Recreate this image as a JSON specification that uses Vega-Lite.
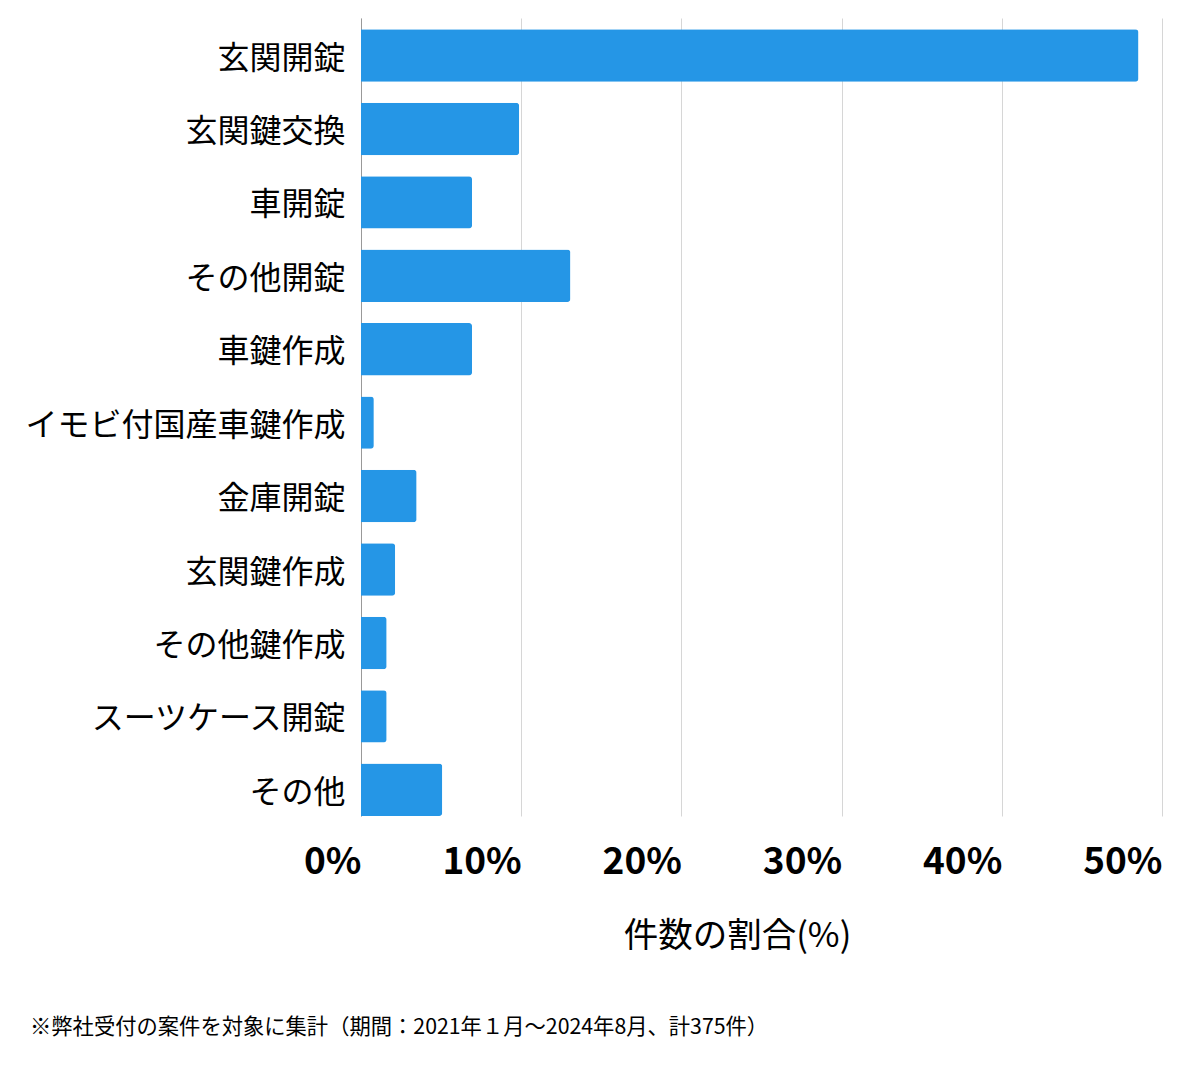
{
  "$schema": "https://vega.github.io/schema/vega-lite/v6.json",
  "width": 801,
  "height": 798,
  "autosize": {"type": "none"},
  "padding": {"left": 361, "top": 18, "right": 38, "bottom": 253},
  "background": "#ffffff",
  "config": {
    "font": "Noto Sans CJK JP",
    "view": {"stroke": null}
  },
  "title": {
    "text": "※弊社受付の案件を対象に集計（期間：2021年１月〜2024年8月、計375件）",
    "orient": "bottom",
    "anchor": "start",
    "frame": "group",
    "dx": -331,
    "offset": 64,
    "fontSize": 21.3,
    "fontWeight": "normal",
    "color": "#000000",
    "font": "Noto Sans CJK JP"
  },
  "data": {
    "values": [
      {"category": "玄関開錠", "count": 182, "pct": 48.53},
      {"category": "玄関鍵交換", "count": 37, "pct": 9.87},
      {"category": "車開錠", "count": 26, "pct": 6.93},
      {"category": "その他開錠", "count": 49, "pct": 13.07},
      {"category": "車鍵作成", "count": 26, "pct": 6.93},
      {"category": "イモビ付国産車鍵作成", "count": 3, "pct": 0.8},
      {"category": "金庫開錠", "count": 13, "pct": 3.47},
      {"category": "玄関鍵作成", "count": 8, "pct": 2.13},
      {"category": "その他鍵作成", "count": 6, "pct": 1.6},
      {"category": "スーツケース開錠", "count": 6, "pct": 1.6},
      {"category": "その他", "count": 19, "pct": 5.07}
    ]
  },
  "mark": {"type": "bar", "color": "#2596e6", "cornerRadiusEnd": 3},
  "encoding": {
    "y": {
      "field": "category",
      "type": "nominal",
      "sort": null,
      "scale": {"paddingInner": 0.286, "paddingOuter": 0.077, "align": 1},
      "axis": {
        "title": null,
        "ticks": false,
        "labelFontSize": 32,
        "labelFontWeight": "normal",
        "labelColor": "#000000",
        "labelPadding": 16,
        "labelOffset": 3,
        "labelLimit": 400,
        "domain": true,
        "domainColor": "#999999",
        "domainWidth": 1,
        "grid": false
      }
    },
    "x": {
      "field": "pct",
      "type": "quantitative",
      "scale": {"domain": [0, 50], "nice": false},
      "axis": {
        "values": [0, 10, 20, 30, 40, 50],
        "labelExpr": "datum.value + '%'",
        "labelAlign": "right",
        "labelBaseline": "top",
        "labelFontSize": 37,
        "labelFontWeight": "bold",
        "labelColor": "#000000",
        "labelPadding": 28,
        "labelFlush": false,
        "ticks": false,
        "domain": false,
        "grid": true,
        "gridColor": "#d6d6d6",
        "gridWidth": 1,
        "title": "件数の割合(%)",
        "titleFontSize": 34.5,
        "titleFontWeight": "normal",
        "titleColor": "#000000",
        "titleX": 376,
        "titleY": 130,
        "titleAlign": "center",
        "titleBaseline": "alphabetic"
      }
    }
  }
}
